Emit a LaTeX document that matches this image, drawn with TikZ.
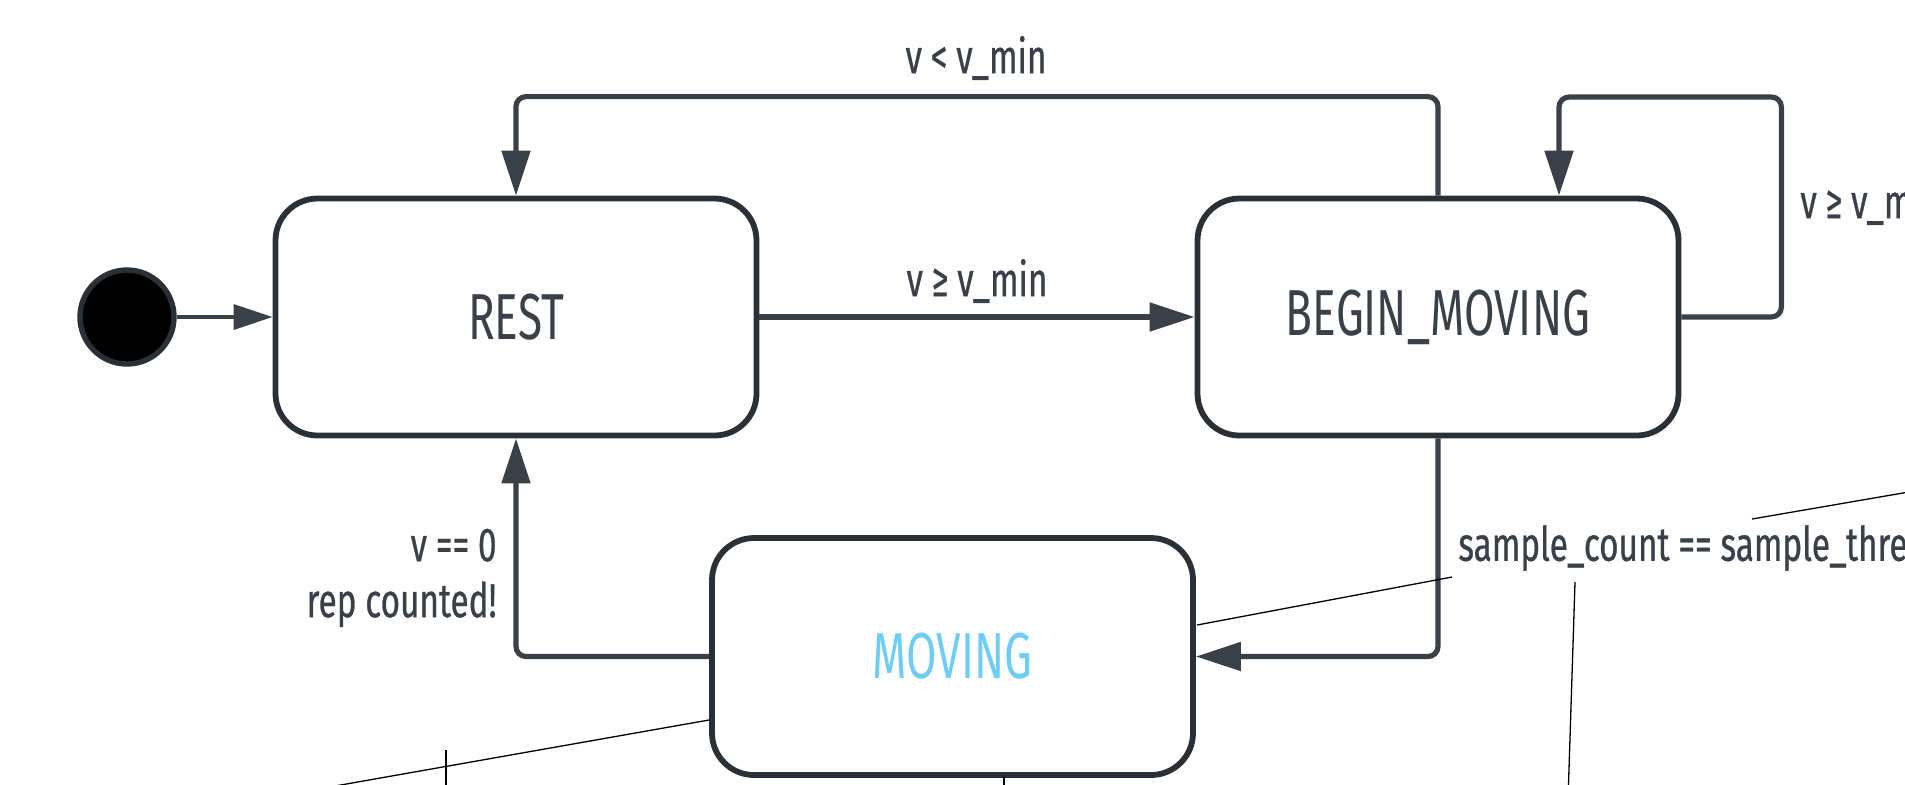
\documentclass[tikz,border=0pt]{standalone}
\usepackage{fontspec}
\setmainfont{Fira Sans}
\newfontfamily\statefont{Fira Sans}[FakeStretch=0.68]
\newfontfamily\labelfont{Fira Sans}[FakeStretch=0.70, FakeBold=0.6]
\usetikzlibrary{arrows.meta}

\definecolor{edgeink}{RGB}{58,63,72}
\definecolor{boxink}{RGB}{43,47,54}
\definecolor{textink}{RGB}{58,63,72}
\definecolor{movblue}{RGB}{110,205,245}

\tikzset{
  statebox/.style={draw=boxink, line width=2.9pt, rounded corners=21pt,
    minimum width=240.5pt, minimum height=118.5pt, inner sep=0pt,
    text=textink, font=\statefont\fontsize{32.5}{36}\selectfont},
  startdot/.style={circle, fill=black, draw=boxink, line width=2.7pt,
    minimum size=47pt, inner sep=0pt},
  conn/.style={draw=edgeink, line width=2.6pt, rounded corners=5pt,
    -{Triangle[length=22.5pt, width=14pt]}},
  startconn/.style={draw=edgeink, line width=1.7pt,
    -{Triangle[length=19.5pt, width=12.5pt]}},
  lbl/.style={text=textink, inner sep=0pt,
    font=\labelfont\fontsize{23.8}{28}\selectfont},
  thin/.style={draw=black, line width=0.65pt}
}

\begin{document}
\begin{tikzpicture}[x=0.5pt, y=-0.5pt]
  \useasboundingbox (0,0) rectangle (1905,784);
  \clip (0,0) rectangle (1905,784);

  % states
  \node[startdot] (init) at (127,317) {};
  \node[statebox] (rest) at (516,317) {REST};
  \node[statebox] (begin) at (1438,317) {BEGIN\_MOVING};
  \node[statebox, text=movblue] (moving) at (952.5,656.5) {MOVING};

  % transitions
  \draw[startconn] (init) -- (rest.west);
  \draw[conn] (rest.east) -- (begin.west);
  \draw[conn] (begin.north) -- ++(0,-99) -| (rest.north);
  \draw[conn] (begin.east) -- ++(100,0) -- ++(0,-220) -| ([xshift=60.5pt]begin.north);
  \draw[conn] (begin.south) |- (moving.east);
  \draw[conn] (moving.west) -| (rest.south);

  % guards
  \node[lbl] (gless) at (976,58) {v < v\_min};
  \node[lbl] (gge) at (977,281) {v ≥ v\_min};
  \node[lbl, anchor=west] (gself) at (1800,203) {v ≥ v\_min};
  \node[lbl, anchor=west] (gsample) at (1458,548) {sample\_count == sample\_threshold};
  \node[lbl, anchor=east, align=right] (gzero) at (497,578) {v == 0\\rep counted!};

  % thin leader lines
  \coordinate (la1) at (1197,625);
  \coordinate (la2) at (1452,577);
  \coordinate (lb1) at (1752,519);
  \coordinate (lb2) at (1990,478);
  \coordinate (lc1) at (1575,582);
  \coordinate (lc2) at (1568,800);
  \coordinate (ld1) at (709,720);
  \coordinate (ld2) at (250,801);
  \coordinate (le1) at (446,750);
  \coordinate (le2) at (446,800);
  \coordinate (lf1) at (1004,777);
  \coordinate (lf2) at (1004,800);
  \draw[thin] (la1) -- (la2);
  \draw[thin] (lb1) -- (lb2);
  \draw[thin] (lc1) -- (lc2);
  \draw[thin] (ld1) -- (ld2);
  \draw[thin] (le1) -- (le2);
  \draw[thin] (lf1) -- (lf2);
\end{tikzpicture}
\end{document}
